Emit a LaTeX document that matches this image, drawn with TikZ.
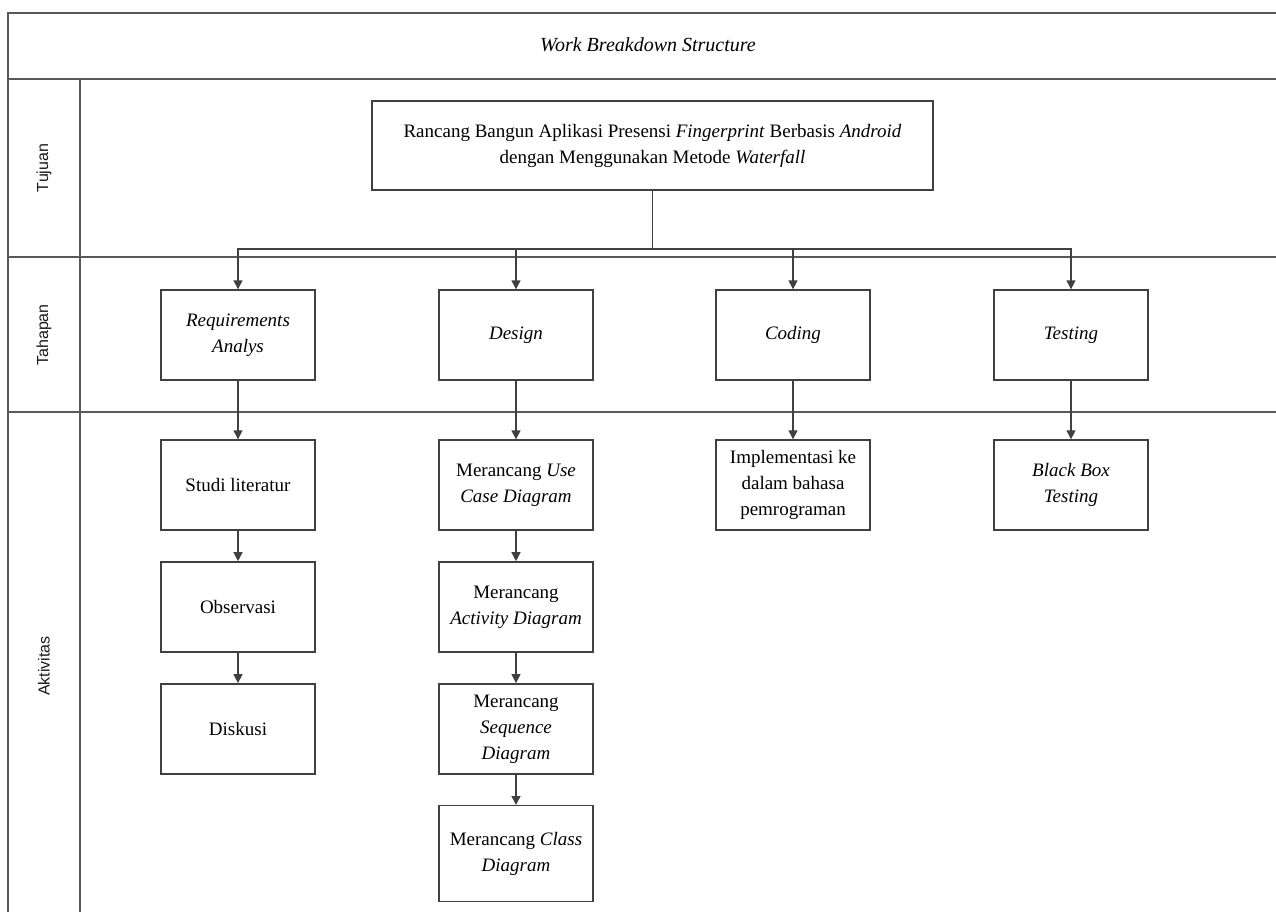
\documentclass[tikz,border=0pt]{standalone}
\usepackage{fontspec}
\setmainfont{Liberation Serif}
\newfontfamily\lanefont{Liberation Sans}
\usetikzlibrary{positioning,arrows.meta}

\begin{document}
\begin{tikzpicture}[x=1pt,y=-1pt,node distance=30.5pt,
  font=\fontsize{19}{26}\selectfont,
  lane/.style={draw=black!65,line width=1.5pt},
  box/.style={rectangle,draw=black!75,line width=1.4pt,minimum width=154pt,minimum height=90pt,align=center,inner sep=2pt},
  flow/.style={draw=black!75,line width=1.4pt,-{Triangle[length=9pt,width=9pt]}}]
  \tikzstyle{lanelabel} = [font=\lanefont\fontsize{16}{18}\selectfont,rotate=90,color=black!90]
  \useasboundingbox (0,0) rectangle (1276,912);
  \draw[lane] (1276,13) -- (8,13) -- (8,912);
  \draw[lane] (8,79) -- (1276,79);
  \draw[lane] (8,257) -- (1276,257);
  \draw[lane] (8,412) -- (1276,412);
  \draw[lane] (80,79) -- (80,912);
  \node (title) at (648,45) {\fontsize{20}{26}\selectfont\textit{Work Breakdown Structure}};
  \node (tujuan) [lanelabel] at (44,168) {Tujuan};
  \node (tahapan) [lanelabel] at (44,335) {Tahapan};
  \node (aktivitas) [lanelabel] at (44,666) {Aktivitas};
  \node (goal) [box,minimum width=561pt,minimum height=89pt] at (652.5,145.5)
    {Rancang Bangun Aplikasi Presensi \textit{Fingerprint} Berbasis \textit{Android}\\dengan Menggunakan Metode \textit{Waterfall}};
  \coordinate (bus) at (652.5,249);
  \node (req) [box] at (238,335) {\textit{Requirements}\\\textit{Analys}};
  \node (design) [box] at (516,335) {\textit{Design}};
  \node (coding) [box] at (793,335) {\textit{Coding}};
  \node (testing) [box] at (1071,335) {\textit{Testing}};
  \node (studi) [box] at (238,485) {Studi literatur};
  \node (obs) [box,below=of studi] {Observasi};
  \node (disk) [box,below=of obs] {Diskusi};
  \node (usecase) [box] at (516,485) {Merancang \textit{Use}\\\textit{Case Diagram}};
  \node (activity) [box,below=of usecase] {Merancang\\\textit{Activity Diagram}};
  \node (sequence) [box,below=of activity] {Merancang\\\textit{Sequence}\\\textit{Diagram}};
  \node (class) [box,below=of sequence,minimum height=96pt] {Merancang \textit{Class}\\\textit{Diagram}};
  \node (impl) [box] at (793,485) {Implementasi ke\\dalam bahasa\\pemrograman};
  \node (blackbox) [box] at (1071,485) {\textit{Black Box}\\\textit{Testing}};
  \draw[flow] (goal.south) -- (bus) -| (req.north);
  \draw[flow] (goal.south) -- (bus) -| (design.north);
  \draw[flow] (goal.south) -- (bus) -| (coding.north);
  \draw[flow] (goal.south) -- (bus) -| (testing.north);
  \draw[flow] (req) -- (studi);
  \draw[flow] (studi) -- (obs);
  \draw[flow] (obs) -- (disk);
  \draw[flow] (design) -- (usecase);
  \draw[flow] (usecase) -- (activity);
  \draw[flow] (activity) -- (sequence);
  \draw[flow] (sequence) -- (class);
  \draw[flow] (coding) -- (impl);
  \draw[flow] (testing) -- (blackbox);
\end{tikzpicture}
\end{document}
